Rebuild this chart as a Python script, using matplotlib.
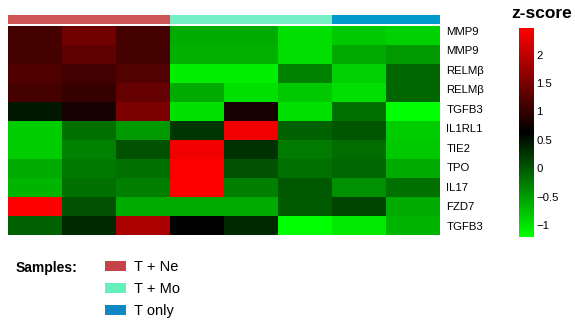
import numpy as np
import matplotlib
matplotlib.use('Agg')
import matplotlib.pyplot as plt
from matplotlib.colors import LinearSegmentedColormap, ListedColormap
from matplotlib.patches import Patch

plt.rcParams['font.family'] = ['Liberation Sans', 'DejaVu Sans']

# genes (rows, top to bottom)
genes = ['MMP9', 'MMP9', 'RELMβ', 'RELMβ', 'TGFB3', 'IL1RL1',
         'TIE2', 'TPO', 'IL17', 'FZD7', 'TGFB3']

# sample groups for the 8 columns
groups = ['T + Ne', 'T + Ne', 'T + Ne', 'T + Mo', 'T + Mo', 'T + Mo', 'T only', 'T only']
group_names = ['T + Ne', 'T + Mo', 'T only']
bar_colors = ['#CD5555', '#76EEC6', '#009ACD']
legend_colors = ['#C4444A', '#66EEBB', '#1188C4']

# z-scores
zscore = np.array([
    [1.13, 1.44, 1.13, -0.60, -0.60, -0.97, -0.81, -0.87],
    [1.13, 1.32, 1.13, -0.64, -0.64, -0.97, -0.58, -0.47],
    [1.21, 1.11, 1.22, -1.09, -1.09, -0.29, -0.87, -0.11],
    [1.12, 1.03, 1.35, -0.60, -0.99, -0.81, -0.97, -0.11],
    [0.46, 0.80, 1.51, -0.99, 0.80, -0.99, -0.18, -1.21],
    [-0.84, -0.18, -0.47, 0.23, 2.36, -0.06, 0.02, -0.84],
    [-0.84, -0.29, 0.05, 2.36, 0.28, -0.25, -0.16, -0.81],
    [-0.60, -0.24, -0.18, 2.47, 0.05, -0.18, -0.11, -0.60],
    [-0.67, -0.18, -0.28, 2.47, -0.28, -0.01, -0.41, -0.18],
    [2.47, 0.05, -0.60, -0.60, -0.60, -0.03, 0.14, -0.60],
    [-0.06, 0.34, 1.86, 0.63, 0.34, -1.21, -1.05, -0.67],
])
cbar_ticks = [-1, -0.5, 0, 0.5, 1, 1.5, 2]
vmin, vmax = -1.21, 2.47

W, H = 575, 323
def px(x0, y0, x1, y1):
    return [x0 / W, 1 - y1 / H, (x1 - x0) / W, (y1 - y0) / H]

fig = plt.figure(figsize=(W / 100, H / 100), dpi=100)

cmap = LinearSegmentedColormap.from_list('gbr', ['#00FF00', '#000000', '#FF0000'])

# heatmap
ax = fig.add_axes(px(8, 26, 440, 235))
mesh = ax.pcolormesh(zscore, cmap=cmap, vmin=vmin, vmax=vmax)
ax.set_xlim(0, zscore.shape[1])
ax.set_ylim(zscore.shape[0], 0)
for s in ax.spines.values():
    s.set_visible(False)
ax.set_xticks([])
ax.yaxis.tick_right()
ax.set_yticks(np.linspace(0.26, 10.5, len(genes)))
ax.set_yticklabels(genes, fontsize=8.2)
ax.tick_params(axis='y', length=0, pad=4.5)

# column annotation bar
gidx = np.array([[group_names.index(g) for g in groups]])
ax_top = fig.add_axes(px(8, 15, 440, 24))
ax_top.imshow(gidx, cmap=ListedColormap(bar_colors), vmin=-0.5, vmax=2.5,
              aspect='auto', interpolation='nearest')
ax_top.axis('off')

# colorbar
cax = fig.add_axes(px(519, 28, 534, 237))
cb = fig.colorbar(mesh, cax=cax, ticks=cbar_ticks)
cb.outline.set_visible(False)
cb.ax.set_yticklabels([('%g' % t).replace('-', '\u2212') for t in cbar_ticks], fontsize=8.2)
cb.ax.tick_params(length=0, pad=1.5)
fig.text(542 / W, 1 - 13 / H, 'z-score', ha='center', va='center',
         fontsize=12.5, fontweight='bold')

# legend
fig.text(16 / W, 1 - 268 / H, 'Samples:', ha='left', va='center',
         fontsize=10, fontweight='bold')
handles = [Patch(facecolor=c, edgecolor='none', label=n)
           for c, n in zip(legend_colors, group_names)]
fig.legend(handles=handles, loc='upper left', bbox_to_anchor=(105 / W, 1 - 260 / H),
           frameon=False, fontsize=10.5, borderpad=0, borderaxespad=0,
           handlelength=1.45, handleheight=0.7, handletextpad=0.55, labelspacing=0.55)

fig.savefig('out.png', dpi=100)
